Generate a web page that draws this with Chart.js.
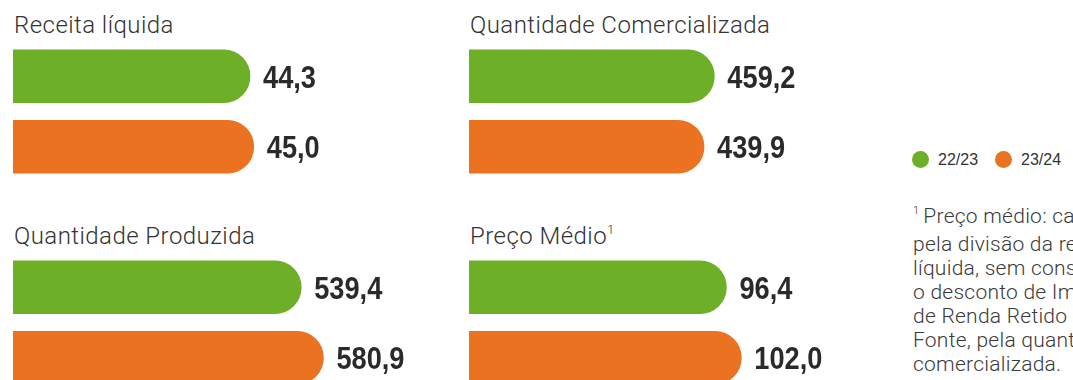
<!DOCTYPE html>
<html lang="pt-BR">
<head>
<meta charset="utf-8">
<title>Indicadores safra 22/23 x 23/24</title>
<script src="https://cdn.jsdelivr.net/npm/chart.js@4.4.1/dist/chart.umd.min.js"></script>
<style>
  html, body { margin: 0; padding: 0; background: #fff; }
  body { width: 1073px; height: 380px; overflow: hidden; position: relative; }
  .title {
    position: absolute; font-family: Roboto, "Liberation Sans", sans-serif; font-weight: 300;
    font-size: 24px; line-height: 24px; letter-spacing: 0.45px; color: #333; white-space: nowrap;
  }
  .title sup { font-size: 13px; vertical-align: 0; position: relative; top: -10px; letter-spacing: 0; }
  canvas { position: absolute; }
  .legend { position: absolute; left: 912px; top: 151px; font-family: "Liberation Sans", Arial, sans-serif;
    font-size: 16px; line-height: 18px; color: #333; white-space: nowrap; }
  .legend span.item { display: inline-block; margin-right: 17px; }
  .legend i { display: inline-block; width: 17px; height: 17px; border-radius: 50%; vertical-align: -3px; margin-right: 9px; }
  .note { position: absolute; left: 913px; top: 204px; font-family: Roboto, "Liberation Sans", sans-serif; font-weight: 300;
    font-size: 21px; line-height: 24px; letter-spacing: 0.25px; color: #3a3a3a; white-space: nowrap; }
  .note sup { font-size: 11px; vertical-align: 0; position: relative; top: -9px; margin-right: 4px; }
</style>
</head>
<body>
<div class="title" style="left:14px; top:13px;" id="t0"></div>
<div class="title" style="left:470px; top:13px;" id="t1"></div>
<div class="title" style="left:14px; top:224px;" id="t2"></div>
<div class="title" style="left:470px; top:224px;" id="t3"></div>

<canvas id="c0" width="420" height="141" style="left:13px; top:41px;"></canvas>
<canvas id="c1" width="420" height="141" style="left:469px; top:41px;"></canvas>
<canvas id="c2" width="420" height="141" style="left:13px; top:252px;"></canvas>
<canvas id="c3" width="420" height="141" style="left:469px; top:252px;"></canvas>

<div class="legend" id="legend"></div>
<div class="note">
  <div><sup>1</sup>Preço médio: calculado</div>
  <div>pela divisão da receita</div>
  <div>líquida, sem considerar</div>
  <div>o desconto de Imposto</div>
  <div>de Renda Retido na</div>
  <div>Fonte, pela quantidade</div>
  <div>comercializada.</div>
</div>

<script>
// Safras comparadas
const seasons = ['22/23', '23/24'];
const seasonColors = ['#6daf27', '#ea7221'];

// Indicadores (um painel por indicador)
const panelTitles = ['Receita líquida', 'Quantidade Comercializada', 'Quantidade Produzida', 'Preço Médio'];
const receitaLiquida = [44.3, 45.0];
const quantidadeComercializada = [459.2, 439.9];
const quantidadeProduzida = [539.4, 580.9];
const precoMedio = [96.4, 102.0];

const panelValues = [receitaLiquida, quantidadeComercializada, quantidadeProduzida, precoMedio];
// Fim do eixo horizontal de cada painel
const panelAxisMax = [78.5, 786, 786, 157.3];

panelTitles.forEach((t, i) => {
  const el = document.getElementById('t' + i);
  el.textContent = t;
  if (i === 3) {
    const s = document.createElement('sup');
    s.textContent = '1';
    el.appendChild(s);
  }
});

document.getElementById('legend').innerHTML = seasons.map((s, i) =>
  `<span class="item"><i style="background:${seasonColors[i]}"></i>${s}</span>`).join('');

const fmt = v => v.toFixed(1).replace('.', ',');

// Rótulo de valor à direita de cada barra, em negrito estreito
const valueLabels = {
  id: 'valueLabels',
  afterDatasetsDraw(chart) {
    const ctx = chart.ctx;
    const size = 32;
    const narrow = 0.85;
    ctx.save();
    ctx.font = `bold ${size}px "Liberation Sans", Arial, sans-serif`;
    ctx.fillStyle = '#2a2a2a';
    ctx.textAlign = 'left';
    ctx.textBaseline = 'alphabetic';
    chart.getDatasetMeta(0).data.forEach((bar, j) => {
      const v = chart.data.datasets[0].data[j];
      ctx.save();
      ctx.translate(bar.x + 13, bar.y + size * 0.358);
      ctx.scale(narrow, 1);
      ctx.fillText(fmt(v), 0, 0);
      ctx.restore();
    });
    ctx.restore();
  }
};

panelValues.forEach((values, i) => {
  new Chart(document.getElementById('c' + i), {
    type: 'bar',
    data: {
      labels: seasons,
      datasets: [{
        data: values,
        backgroundColor: seasonColors,
        borderWidth: 0,
        borderRadius: 40,
        borderSkipped: 'start',
        barThickness: 53
      }]
    },
    options: {
      indexAxis: 'y',
      responsive: false,
      animation: false,
      layout: { padding: 0 },
      plugins: { legend: { display: false }, tooltip: { enabled: false } },
      scales: {
        x: { display: false, min: 0, max: panelAxisMax[i] },
        y: { display: false, offset: true }
      }
    },
    plugins: [valueLabels]
  });
});
</script>
</body>
</html>
